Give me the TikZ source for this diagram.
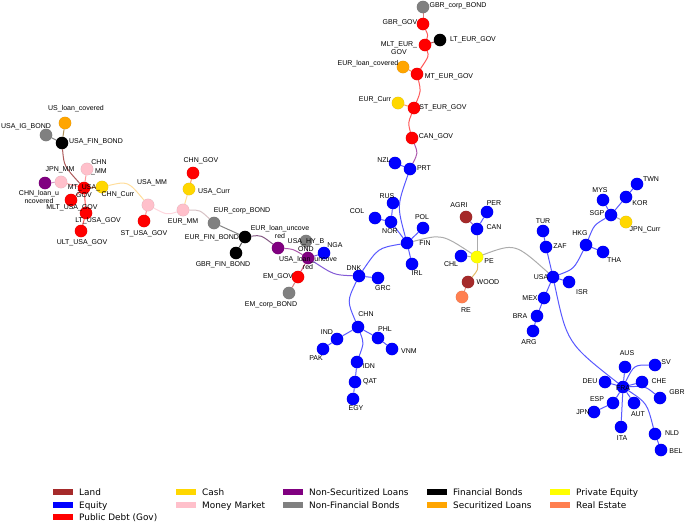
\documentclass[tikz,border=0pt]{standalone}
\usepackage{fontspec}
\newfontfamily\labfont{Liberation Sans}
\newfontfamily\legfont{DejaVu Sans}
\definecolor{cLand}{HTML}{A52A2A}
\definecolor{cEq}{HTML}{0000FF}
\definecolor{cGov}{HTML}{FF0000}
\definecolor{cCash}{HTML}{FFD700}
\definecolor{cMM}{HTML}{FFC0CB}
\definecolor{cNSL}{HTML}{800080}
\definecolor{cNFB}{HTML}{808080}
\definecolor{cFB}{HTML}{000000}
\definecolor{cSL}{HTML}{FFA500}
\definecolor{cPE}{HTML}{FFFF00}
\definecolor{cRE}{HTML}{FF7F50}

\begin{document}
\begin{tikzpicture}[x=1pt, y=-1pt,
  asset/.style={circle, minimum size=12.5pt, inner sep=0pt, draw=black, draw opacity=0.12, line width=0.3pt},
  nLand/.style={asset, fill=cLand}, nEq/.style={asset, fill=cEq}, nGov/.style={asset, fill=cGov},
  nCash/.style={asset, fill=cCash}, nMM/.style={asset, fill=cMM}, nNSL/.style={asset, fill=cNSL},
  nNFB/.style={asset, fill=cNFB}, nFB/.style={asset, fill=cFB}, nSL/.style={asset, fill=cSL},
  nPE/.style={asset, fill=cPE}, nRE/.style={asset, fill=cRE},
  tag/.style={font={\labfont\fontsize{7}{8.5}\selectfont}, inner sep=0pt, align=center},
  lnk/.style={line width=1pt, opacity=0.65},
  swatch/.style={minimum width=20pt, minimum height=6.5pt, inner sep=0pt},
  keytext/.style={font={\legfont\fontsize{8.9}{10}\selectfont}, anchor=base west, inner sep=0pt}]
  \useasboundingbox (0,0) rectangle (685,523);

  %--- Staatsanleihen-Kette oben
  \node[nNFB] (GBR_corp_BOND) at (423,7) {};
  \node[nGov] (GBR_GOV) at (423,24) {};
  \node[nGov] (MLT_EUR_GOV) at (425,45) {};
  \node[nFB]  (LT_EUR_GOV) at (440,40) {};
  \node[nSL]  (EUR_loan_covered) at (403,67) {};
  \node[nGov] (MT_EUR_GOV) at (417,74) {};
  \node[nCash] (EUR_Curr) at (398,103) {};
  \node[nGov] (ST_EUR_GOV) at (414,108) {};
  \node[nGov] (CAN_GOV) at (412,138) {};

  %--- Aktien Mitte
  \node[nEq] (PRT) at (410,169) {};
  \node[nEq] (NZL) at (395,163) {};
  \node[nEq] (RUS) at (393,203) {};
  \node[nEq] (COL) at (375,218) {};
  \node[nEq] (NOR) at (391,222) {};
  \node[nEq] (POL) at (423,228) {};
  \node[nEq] (FIN) at (407,243) {};
  \node[nEq] (IRL) at (412,264) {};
  \node[nEq] (DNK) at (359,276) {};
  \node[nEq] (GRC) at (378,278) {};

  %--- Private Equity / Land
  \node[nLand] (AGRI) at (466,217) {};
  \node[nEq] (PER) at (487,212) {};
  \node[nEq] (CAN) at (477,229) {};
  \node[nEq] (CHL) at (461,256) {};
  \node[nPE] (PE) at (477,257) {};
  \node[nLand] (WOOD) at (468,282) {};
  \node[nRE] (RE) at (462,297) {};

  %--- Aktien rechts (USA, Asien)
  \node[nEq] (TUR) at (543,231) {};
  \node[nEq] (ZAF) at (546,247) {};
  \node[nEq] (USA) at (553,277) {};
  \node[nEq] (ISR) at (569,282) {};
  \node[nEq] (HKG) at (586,245) {};
  \node[nEq] (THA) at (603,252) {};
  \node[nEq] (SGP) at (611,215) {};
  \node[nEq] (MYS) at (603,200) {};
  \node[nEq] (KOR) at (626,197) {};
  \node[nEq] (TWN) at (637,184) {};
  \node[nCash] (JPN_Curr) at (626,222) {};
  \node[nEq] (MEX) at (544,298) {};
  \node[nEq] (BRA) at (537,316) {};
  \node[nEq] (ARG) at (533,331) {};

  %--- Europa unten rechts
  \node[nEq] (AUS) at (625,367) {};
  \node[nEq] (SV) at (655,365) {};
  \node[nEq] (DEU) at (605,382) {};
  \node[nEq] (FRA) at (623,387) {};
  \node[nEq] (CHE) at (642,382) {};
  \node[nEq] (GBR) at (660,398) {};
  \node[nEq] (ESP) at (613,403) {};
  \node[nEq] (AUT) at (634,403) {};
  \node[nEq] (JPN) at (594,412) {};
  \node[nEq] (ITA) at (621,427) {};
  \node[nEq] (NLD) at (655,434) {};
  \node[nEq] (BEL) at (661,450) {};

  %--- Schwellenlaender unten
  \node[nEq] (CHN) at (358,327) {};
  \node[nEq] (IND) at (337,339) {};
  \node[nEq] (PAK) at (323,349) {};
  \node[nEq] (PHL) at (378,338) {};
  \node[nEq] (VNM) at (392,349) {};
  \node[nEq] (IDN) at (357,362) {};
  \node[nEq] (QAT) at (355,382) {};
  \node[nEq] (EGY) at (353,399) {};

  %--- USA-Block links
  \node[nSL]  (US_loan_covered) at (65,123) {};
  \node[nNFB] (USA_IG_BOND) at (46,135) {};
  \node[nFB]  (USA_FIN_BOND) at (62,143) {};
  \node[nMM]  (CHN_MM) at (87,169) {};
  \node[nMM]  (JPN_MM) at (61,182) {};
  \node[nNSL] (CHN_loan_uncovered) at (45,183) {};
  \node[nGov] (MT_USA_GOV) at (84,188) {};
  \node[nCash] (CHN_Curr) at (102,187) {};
  \node[nGov] (MLT_USA_GOV) at (71,200) {};
  \node[nGov] (LT_USA_GOV) at (86,213) {};
  \node[nGov] (ULT_USA_GOV) at (81,231) {};
  \node[nMM]  (USA_MM) at (148,205) {};
  \node[nGov] (ST_USA_GOV) at (144,221) {};

  %--- Geldmarkt / Anleihen / Kredite
  \node[nMM]  (EUR_MM) at (183,210) {};
  \node[nGov] (CHN_GOV) at (193,173) {};
  \node[nCash] (USA_Curr) at (189,189) {};
  \node[nNFB] (EUR_corp_BOND) at (214,223) {};
  \node[nFB]  (EUR_FIN_BOND) at (245,237) {};
  \node[nFB]  (GBR_FIN_BOND) at (236,253) {};
  \node[nNSL] (EUR_loan_uncovered) at (278,248) {};
  \node[nNFB] (USA_HY_BOND) at (306,241) {};
  \node[nEq]  (NGA) at (324,253) {};
  \node[nNSL] (USA_loan_uncovered) at (308,258) {};
  \node[nGov] (EM_GOV) at (298,277) {};
  \node[nNFB] (EM_corp_BOND) at (289,293) {};

  %--- Kanten (Farbe = Mittel der Endpunkte)
  \draw[lnk, cGov!50!cNFB] (GBR_corp_BOND) -- (GBR_GOV);
  \draw[lnk, cGov] (GBR_GOV) .. controls (428,35) .. (MLT_EUR_GOV);
  \draw[lnk, cGov!50!cFB] (MLT_EUR_GOV) -- (LT_EUR_GOV);
  \draw[lnk, cGov] (MLT_EUR_GOV) .. controls (429,56) .. (MT_EUR_GOV);
  \draw[lnk, cGov!50!cSL] (MT_EUR_GOV) -- (EUR_loan_covered);
  \draw[lnk, cGov] (MT_EUR_GOV) .. controls (421,91) .. (ST_EUR_GOV);
  \draw[lnk, cGov!50!cCash] (ST_EUR_GOV) -- (EUR_Curr);
  \draw[lnk, cGov] (ST_EUR_GOV) .. controls (408,123) .. (CAN_GOV);
  \draw[lnk, cGov!50!cEq] (CAN_GOV) .. controls (418,153) .. (PRT);

  \draw[lnk, cEq] (PRT) -- (NZL);
  \draw[lnk, cEq] (PRT) .. controls (397,206) .. (FIN);
  \draw[lnk, cEq] (RUS) -- (NOR);
  \draw[lnk, cEq] (COL) -- (NOR);
  \draw[lnk, cEq] (NOR) -- (FIN);
  \draw[lnk, cEq] (FIN) -- (POL);
  \draw[lnk, cEq] (FIN) -- (IRL);
  \draw[lnk, cEq] (FIN) .. controls (378,248) .. (DNK);
  \draw[lnk, cEq] (DNK) -- (GRC);
  \draw[lnk, cEq] (DNK) .. controls (347,301) .. (CHN);

  \draw[lnk, cEq!50!cPE] (FIN) .. controls (442,234) .. (PE);
  \draw[lnk, cEq!50!cPE] (PE) -- (CAN);
  \draw[lnk, cEq] (CAN) -- (PER);
  \draw[lnk, cEq!50!cLand] (CAN) -- (AGRI);
  \draw[lnk, cEq!50!cPE] (PE) -- (CHL);
  \draw[lnk, cPE!50!cLand] (PE) .. controls (478,270) .. (WOOD);
  \draw[lnk, cLand!50!cRE] (WOOD) -- (RE);
  \draw[lnk, cPE!50!cEq] (PE) .. controls (515,243) .. (USA);

  \draw[lnk, cEq] (USA) -- (ZAF);
  \draw[lnk, cEq] (ZAF) -- (TUR);
  \draw[lnk, cEq] (USA) -- (ISR);
  \draw[lnk, cEq] (USA) -- (MEX);
  \draw[lnk, cEq] (MEX) -- (BRA);
  \draw[lnk, cEq] (BRA) -- (ARG);
  \draw[lnk, cEq] (USA) .. controls (574,269) .. (HKG);
  \draw[lnk, cEq] (HKG) -- (THA);
  \draw[lnk, cEq] (HKG) .. controls (594,225) .. (SGP);
  \draw[lnk, cEq] (SGP) -- (MYS);
  \draw[lnk, cEq] (SGP) -- (KOR);
  \draw[lnk, cEq] (KOR) -- (TWN);
  \draw[lnk, cEq!50!cCash] (SGP) -- (JPN_Curr);

  \draw[lnk, cEq] (USA) .. controls (567,343) .. (FRA);
  \draw[lnk, cEq] (FRA) -- (DEU);
  \draw[lnk, cEq] (FRA) -- (AUS);
  \draw[lnk, cEq] (FRA) .. controls (634,365) .. (SV);
  \draw[lnk, cEq] (FRA) -- (CHE);
  \draw[lnk, cEq] (FRA) .. controls (645,386) .. (GBR);
  \draw[lnk, cEq] (FRA) -- (ESP);
  \draw[lnk, cEq] (ESP) -- (JPN);
  \draw[lnk, cEq] (FRA) -- (AUT);
  \draw[lnk, cEq] (FRA) -- (ITA);
  \draw[lnk, cEq] (FRA) .. controls (647,403) .. (NLD);
  \draw[lnk, cEq] (NLD) -- (BEL);

  \draw[lnk, cEq] (CHN) -- (IND);
  \draw[lnk, cEq] (IND) -- (PAK);
  \draw[lnk, cEq] (CHN) -- (PHL);
  \draw[lnk, cEq] (PHL) -- (VNM);
  \draw[lnk, cEq] (CHN) .. controls (364,343) .. (IDN);
  \draw[lnk, cEq] (IDN) -- (QAT);
  \draw[lnk, cEq] (QAT) -- (EGY);

  \draw[lnk, cEq!50!cNSL] (DNK) .. controls (334,275) .. (USA_loan_uncovered);
  \draw[lnk, cNSL!50!cEq] (USA_loan_uncovered) -- (NGA);
  \draw[lnk, cNSL!50!cNFB] (USA_loan_uncovered) -- (USA_HY_BOND);
  \draw[lnk, cNSL!50!cGov] (USA_loan_uncovered) -- (EM_GOV);
  \draw[lnk, cGov!50!cNFB] (EM_GOV) -- (EM_corp_BOND);
  \draw[lnk, cNSL] (USA_loan_uncovered) .. controls (293,249) .. (EUR_loan_uncovered);
  \draw[lnk, cNSL!50!cFB] (EUR_loan_uncovered) .. controls (261,235) .. (EUR_FIN_BOND);
  \draw[lnk, cFB] (EUR_FIN_BOND) -- (GBR_FIN_BOND);
  \draw[lnk, cFB!50!cNFB] (EUR_FIN_BOND) -- (EUR_corp_BOND);
  \draw[lnk, cNFB!50!cMM] (EUR_corp_BOND) .. controls (200,210) .. (EUR_MM);
  \draw[lnk, cMM!50!cCash] (EUR_MM) -- (USA_Curr);
  \draw[lnk, cCash!50!cGov] (USA_Curr) -- (CHN_GOV);
  \draw[lnk, cMM] (EUR_MM) .. controls (167,215) .. (USA_MM);
  \draw[lnk, cMM!50!cGov] (USA_MM) -- (ST_USA_GOV);
  \draw[lnk, cMM!50!cCash] (USA_MM) .. controls (128,181) .. (CHN_Curr);
  \draw[lnk, cCash!50!cGov] (CHN_Curr) -- (MT_USA_GOV);
  \draw[lnk, cGov!50!cMM] (MT_USA_GOV) -- (CHN_MM);
  \draw[lnk, cGov!50!cMM] (MT_USA_GOV) -- (JPN_MM);
  \draw[lnk, cMM!50!cNSL] (JPN_MM) -- (CHN_loan_uncovered);
  \draw[lnk, cGov] (MT_USA_GOV) -- (MLT_USA_GOV);
  \draw[lnk, cGov] (MT_USA_GOV) -- (LT_USA_GOV);
  \draw[lnk, cGov] (LT_USA_GOV) -- (ULT_USA_GOV);
  \draw[lnk, cGov!50!cFB] (MT_USA_GOV) .. controls (64,166) .. (USA_FIN_BOND);
  \draw[lnk, cFB!50!cNFB] (USA_FIN_BOND) -- (USA_IG_BOND);
  \draw[lnk, cFB!50!cSL] (USA_FIN_BOND) -- (US_loan_covered);

  %--- Beschriftungen
  \node[tag] (t-GBR_corp_BOND) at (458,6) {GBR\_corp\_BOND};
  \node[tag] (t-GBR_GOV) at (400,23) {GBR\_GOV};
  \node[tag] (t-MLT_EUR_GOV) at (399,48) {MLT\_EUR\_\\GOV};
  \node[tag] (t-LT_EUR_GOV) at (473,40) {LT\_EUR\_GOV};
  \node[tag] (t-EUR_loan_covered) at (368,64) {EUR\_loan\_covered};
  \node[tag] (t-MT_EUR_GOV) at (449,77) {MT\_EUR\_GOV};
  \node[tag] (t-EUR_Curr) at (375,100) {EUR\_Curr};
  \node[tag] (t-ST_EUR_GOV) at (443,108) {ST\_EUR\_GOV};
  \node[tag] (t-CAN_GOV) at (436,137) {CAN\_GOV};

  \node[tag] (t-PRT) at (424,168) {PRT};
  \node[tag] (t-NZL) at (384,160) {NZL};
  \node[tag] (t-RUS) at (387,196) {RUS};
  \node[tag] (t-COL) at (357,211) {COL};
  \node[tag] (t-NOR) at (390,231) {NOR};
  \node[tag] (t-POL) at (422,217) {POL};
  \node[tag] (t-FIN) at (425,243) {FIN};
  \node[tag] (t-IRL) at (417,273) {IRL};
  \node[tag] (t-DNK) at (354,268) {DNK};
  \node[tag] (t-GRC) at (383,288) {GRC};

  \node[tag] (t-AGRI) at (459,205) {AGRI};
  \node[tag] (t-PER) at (494,203) {PER};
  \node[tag] (t-CAN) at (494,227) {CAN};
  \node[tag] (t-CHL) at (451,264) {CHL};
  \node[tag] (t-PE) at (489,261) {PE};
  \node[tag] (t-WOOD) at (488,282) {WOOD};
  \node[tag] (t-RE) at (466,310) {RE};

  \node[tag] (t-TUR) at (543,221) {TUR};
  \node[tag] (t-ZAF) at (560,246) {ZAF};
  \node[tag] (t-USA) at (541,277) {USA};
  \node[tag] (t-ISR) at (582,292) {ISR};
  \node[tag] (t-HKG) at (580,233) {HKG};
  \node[tag] (t-THA) at (614,260) {THA};
  \node[tag] (t-SGP) at (597,213) {SGP};
  \node[tag] (t-MYS) at (600,190) {MYS};
  \node[tag] (t-KOR) at (640,203) {KOR};
  \node[tag] (t-TWN) at (651,179) {TWN};
  \node[tag] (t-JPN_Curr) at (645,230) {JPN\_Curr};
  \node[tag] (t-MEX) at (530,298) {MEX};
  \node[tag] (t-BRA) at (520,316) {BRA};
  \node[tag] (t-ARG) at (529,342) {ARG};

  \node[tag] (t-AUS) at (627,353) {AUS};
  \node[tag] (t-SV) at (666,362) {SV};
  \node[tag] (t-DEU) at (590,381) {DEU};
  \node[tag] (t-FRA) at (623,388) {FRA};
  \node[tag] (t-CHE) at (659,381) {CHE};
  \node[tag] (t-GBR) at (677,392) {GBR};
  \node[tag] (t-ESP) at (597,399) {ESP};
  \node[tag] (t-AUT) at (638,414) {AUT};
  \node[tag] (t-JPN) at (583,412) {JPN};
  \node[tag] (t-ITA) at (622,438) {ITA};
  \node[tag] (t-NLD) at (672,433) {NLD};
  \node[tag] (t-BEL) at (676,451) {BEL};

  \node[tag] (t-CHN) at (366,314) {CHN};
  \node[tag] (t-IND) at (327,332) {IND};
  \node[tag] (t-PAK) at (316,358) {PAK};
  \node[tag] (t-PHL) at (385,329) {PHL};
  \node[tag] (t-VNM) at (409,351) {VNM};
  \node[tag] (t-IDN) at (369,366) {IDN};
  \node[tag] (t-QAT) at (370,382) {QAT};
  \node[tag] (t-EGY) at (356,408) {EGY};

  \node[tag] (t-US_loan_covered) at (76,109) {US\_loan\_covered};
  \node[tag] (t-USA_IG_BOND) at (26,127) {USA\_IG\_BOND};
  \node[tag] (t-USA_FIN_BOND) at (96,142) {USA\_FIN\_BOND};
  \node[tag] (t-CHN_MM) at (99,167) {CHN\\\_MM};
  \node[tag] (t-JPN_MM) at (60,170) {JPN\_MM};
  \node[tag] (t-CHN_loan_uncovered) at (39,197) {CHN\_loan\_u\\ncovered};
  \node[tag] (t-MT_USA_GOV) at (84,191) {MT\_USA\_\\GOV};
  \node[tag] (t-CHN_Curr) at (118,195) {CHN\_Curr};
  \node[tag] (t-MLT_USA_GOV) at (72,208) {MLT\_USA\_GOV};
  \node[tag] (t-LT_USA_GOV) at (98,221) {LT\_USA\_GOV};
  \node[tag] (t-ULT_USA_GOV) at (82,243) {ULT\_USA\_GOV};
  \node[tag] (t-USA_MM) at (152,183) {USA\_MM};
  \node[tag] (t-ST_USA_GOV) at (144,234) {ST\_USA\_GOV};

  \node[tag] (t-EUR_MM) at (183,222) {EUR\_MM};
  \node[tag] (t-CHN_GOV) at (201,161) {CHN\_GOV};
  \node[tag] (t-USA_Curr) at (214,192) {USA\_Curr};
  \node[tag] (t-EUR_corp_BOND) at (242,211) {EUR\_corp\_BOND};
  \node[tag] (t-EUR_FIN_BOND) at (212,238) {EUR\_FIN\_BOND};
  \node[tag] (t-GBR_FIN_BOND) at (223,265) {GBR\_FIN\_BOND};
  \node[tag] (t-EUR_loan_uncovered) at (280,232) {EUR\_loan\_uncove\\red};
  \node[tag] (t-USA_HY_BOND) at (306,245) {USA\_HY\_B\\OND};
  \node[tag] (t-NGA) at (335,245) {NGA};
  \node[tag] (t-USA_loan_uncovered) at (308,263) {USA\_loan\_uncove\\red};
  \node[tag] (t-EM_GOV) at (278,277) {EM\_GOV};
  \node[tag] (t-EM_corp_BOND) at (271,305) {EM\_corp\_BOND};

  %--- Legende
  \node[swatch, fill=cLand] (k-land) at (63,492) {};
  \node[keytext] (k-land-t) at (79,495.5) {Land};
  \node[swatch, fill=cEq] (k-eq) at (63,505) {};
  \node[keytext] (k-eq-t) at (79,508) {Equity};
  \node[swatch, fill=cGov] (k-gov) at (63,517) {};
  \node[keytext] (k-gov-t) at (79,520.5) {Public Debt (Gov)};
  \node[swatch, fill=cCash] (k-cash) at (186,492) {};
  \node[keytext] (k-cash-t) at (202,495.5) {Cash};
  \node[swatch, fill=cMM] (k-mm) at (186,505) {};
  \node[keytext] (k-mm-t) at (202,508) {Money Market};
  \node[swatch, fill=cNSL] (k-nsl) at (293,492) {};
  \node[keytext] (k-nsl-t) at (309,495.5) {Non-Securitized Loans};
  \node[swatch, fill=cNFB] (k-nfb) at (293,505) {};
  \node[keytext] (k-nfb-t) at (309,508) {Non-Financial Bonds};
  \node[swatch, fill=cFB] (k-fb) at (437,492) {};
  \node[keytext] (k-fb-t) at (453,495.5) {Financial Bonds};
  \node[swatch, fill=cSL] (k-sl) at (437,505) {};
  \node[keytext] (k-sl-t) at (453,508) {Securitized Loans};
  \node[swatch, fill=cPE] (k-pe) at (560,492) {};
  \node[keytext] (k-pe-t) at (576,495.5) {Private Equity};
  \node[swatch, fill=cRE] (k-re) at (560,505) {};
  \node[keytext] (k-re-t) at (576,508) {Real Estate};
\end{tikzpicture}
\end{document}
